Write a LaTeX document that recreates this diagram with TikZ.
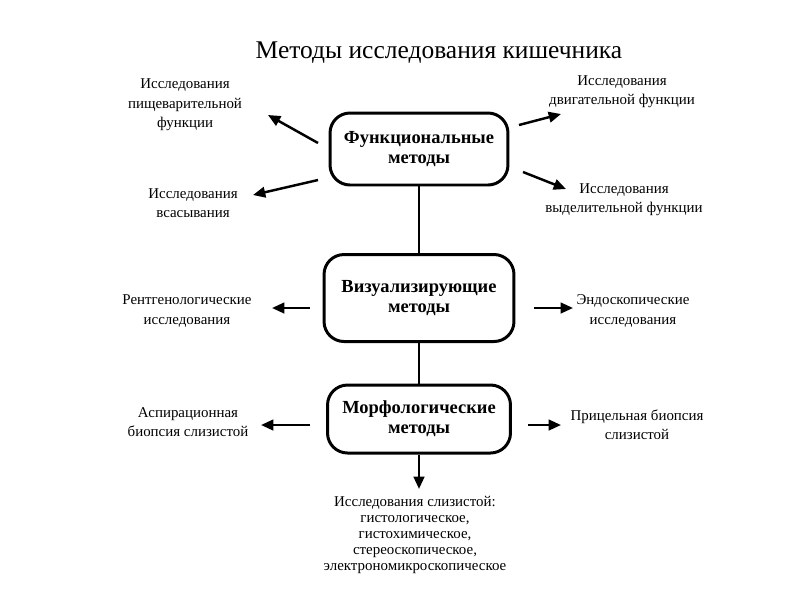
\documentclass[tikz,border=0pt]{standalone}
\usepackage{fontspec}
\setmainfont{Liberation Serif}
\usetikzlibrary{arrows.meta}

\tikzset{
  method/.style={draw, line width=1.7pt, rounded corners=0.4cm, align=center, inner sep=0pt,
    font=\fontsize{10.5}{11.5}\selectfont\bfseries},
  note/.style={align=center, inner sep=0pt, font=\fontsize{8.5}{11}\selectfont},
  pointer/.style={line width=1.4pt, -{Triangle[length=7pt,width=6pt]}},
  link/.style={line width=1.3pt}
}

\begin{document}
\begin{tikzpicture}[x=0.02cm,y=-0.02cm]
\useasboundingbox (0,0) rectangle (800,600);

\node[font=\fontsize{14.5}{17}\selectfont] (title) at (439,53) {Методы исследования кишечника};

\node[method, minimum width=3.56cm, minimum height=1.44cm] (fun) at (419,149) {Функциональные\\методы};
\node[method, minimum width=3.8cm, minimum height=1.74cm] (vis) at (419,298) {Визуализирующие\\методы};
\node[method, minimum width=3.66cm, minimum height=1.36cm] (mor) at (419,419) {Морфологические\\методы};

\node[note] (digest) at (185,105) {Исследования\\пищеварительной\\функции};
\node[note] (absorb) at (193,203) {Исследования\\всасывания};
\node[note] (motor) at (622,92) {Исследования\\двигательной функции};
\node[note] (excret) at (624,200) {Исследования\\выделительной функции};
\node[note] (xray) at (187,311) {Рентгенологические\\исследования};
\node[note] (endo) at (633,311) {Эндоскопические\\исследования};
\node[note] (aspir) at (188,422) {Аспирационная\\биопсия слизистой};
\node[note] (target) at (637,425) {Прицельная биопсия\\слизистой};
\node[note, font=\fontsize{8.5}{9.1}\selectfont] (mucosa) at (415,535)
  {Исследования слизистой:\\гистологическое,\\гистохимическое,\\стереоскопическое,\\электрономикроскопическое};

\coordinate (fun-dg) at (318,143); \coordinate (dg-end) at (268,115);
\coordinate (fun-ab) at (318,180); \coordinate (ab-end) at (253,195);
\coordinate (fun-mo) at (519,125); \coordinate (mo-end) at (561,114);
\coordinate (fun-ex) at (523,172); \coordinate (ex-end) at (566,189);
\coordinate (vis-xr) at (310,308); \coordinate (xr-end) at (272,308);
\coordinate (vis-en) at (534,308); \coordinate (en-end) at (573,308);
\coordinate (mor-as) at (310,425); \coordinate (as-end) at (261,425);
\coordinate (mor-ta) at (528,425); \coordinate (ta-end) at (561,425);
\coordinate (mu-end) at (419,489);

\draw[pointer] (fun-dg) -- (dg-end);
\draw[pointer] (fun-ab) -- (ab-end);
\draw[pointer] (fun-mo) -- (mo-end);
\draw[pointer] (fun-ex) -- (ex-end);
\draw[pointer] (vis-xr) -- (xr-end);
\draw[pointer] (vis-en) -- (en-end);
\draw[pointer] (mor-as) -- (as-end);
\draw[pointer] (mor-ta) -- (ta-end);

\draw[link] (fun) -- (vis);
\draw[link] (vis) -- (mor);
\draw[pointer] (mor) -- (mu-end);
\end{tikzpicture}
\end{document}
